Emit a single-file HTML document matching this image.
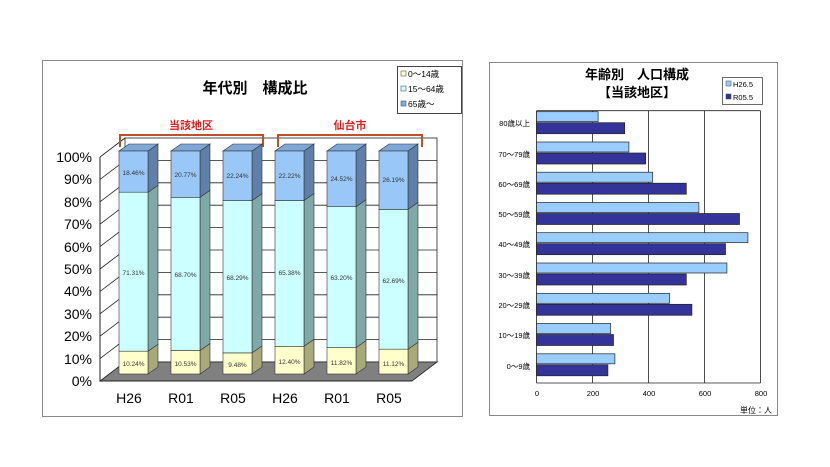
<!DOCTYPE html>
<html><head><meta charset="utf-8"><style>
html,body{margin:0;padding:0;background:#fff;}
svg{display:block;font-family:"Liberation Sans","Noto Sans CJK JP",sans-serif;}
</style></head><body>
<svg width="830" height="467" viewBox="0 0 830 467" xmlns="http://www.w3.org/2000/svg">
<rect x="0" y="0" width="830" height="467" fill="#fff"/>
<!-- LEFT PANEL -->
<rect x="42.5" y="60.5" width="420" height="356" fill="#fff" stroke="#888" stroke-width="1"/>
<text x="255" y="93" font-size="15" font-weight="bold" text-anchor="middle" fill="#000">年代別　構成比</text>
<!-- legend -->
<rect x="397.5" y="66.5" width="64" height="47" fill="#fff" stroke="#444"/>
<rect x="401" y="71" width="5" height="5" fill="#ffffcc" stroke="#555" stroke-width="0.6"/>
<text x="408" y="77" font-size="8.5">0～14歳</text>
<rect x="401" y="86" width="5" height="5" fill="#ccffff" stroke="#555" stroke-width="0.6"/>
<text x="408" y="92" font-size="8.5">15～64歳</text>
<rect x="401" y="101" width="5" height="5" fill="#7faee6" stroke="#555" stroke-width="0.6"/>
<text x="408" y="107" font-size="8.5">65歳～</text>
<!-- back wall and floor -->
<rect x="125" y="138" width="312" height="224" fill="#fff" stroke="#222" stroke-width="0.8"/>
<g stroke="#222" stroke-width="0.8">
<line x1="125" y1="160.4" x2="437" y2="160.4"/><line x1="125" y1="182.8" x2="437" y2="182.8"/>
<line x1="125" y1="205.2" x2="437" y2="205.2"/><line x1="125" y1="227.6" x2="437" y2="227.6"/>
<line x1="125" y1="250" x2="437" y2="250"/><line x1="125" y1="272.4" x2="437" y2="272.4"/>
<line x1="125" y1="294.8" x2="437" y2="294.8"/><line x1="125" y1="317.2" x2="437" y2="317.2"/>
<line x1="125" y1="339.6" x2="437" y2="339.6"/>
<line x1="100" y1="157" x2="125" y2="138"/><line x1="100" y1="179.4" x2="125" y2="160.4"/>
<line x1="100" y1="201.8" x2="125" y2="182.8"/><line x1="100" y1="224.2" x2="125" y2="205.2"/>
<line x1="100" y1="246.6" x2="125" y2="227.6"/><line x1="100" y1="269" x2="125" y2="250"/>
<line x1="100" y1="291.4" x2="125" y2="272.4"/><line x1="100" y1="313.8" x2="125" y2="294.8"/>
<line x1="100" y1="336.2" x2="125" y2="317.2"/><line x1="100" y1="358.6" x2="125" y2="339.6"/>
</g>
<polygon points="100,381 125,362 437,362 412,381" fill="#808080" stroke="#222" stroke-width="0.8"/>
<line x1="100" y1="157" x2="100" y2="381" stroke="#222"/>
<line x1="100" y1="381" x2="412" y2="381" stroke="#222"/>
<g font-size="14" text-anchor="end" fill="#000">
<text x="92" y="162">100%</text><text x="92" y="184">90%</text><text x="92" y="207">80%</text>
<text x="92" y="229">70%</text><text x="92" y="252">60%</text><text x="92" y="274">50%</text>
<text x="92" y="296">40%</text><text x="92" y="319">30%</text><text x="92" y="341">20%</text>
<text x="92" y="364">10%</text><text x="92" y="386">0%</text>
</g>
<g font-size="14" text-anchor="middle" fill="#000">
<text x="129" y="403">H26</text><text x="181" y="403">R01</text><text x="233" y="403">R05</text>
<text x="285" y="403">H26</text><text x="337" y="403">R01</text><text x="389" y="403">R05</text>
</g>
<!-- brackets -->
<g fill="none" stroke="#c0502a" stroke-width="2">
<polyline points="120,147 120,135 263,135 263,147"/>
<polyline points="278,147 278,135 422,135 422,147"/>
</g>
<text x="191" y="129" font-size="11" font-weight="bold" fill="#e02020" text-anchor="middle">当該地区</text>
<text x="350" y="129" font-size="11" font-weight="bold" fill="#e02020" text-anchor="middle">仙台市</text>
<!-- bars -->
<g stroke="#333" stroke-width="0.6">
<!-- bar1 x=119 -->
<polygon points="148,374 158,367 158,344.2 148,351.2" fill="#a8a878"/>
<polygon points="148,351.2 158,344.2 158,185.2 148,192.2" fill="#7fa8a8"/>
<polygon points="148,192.2 158,185.2 158,144 148,151" fill="#5f80a8"/>
<polygon points="119,151 129,144 158,144 148,151" fill="#7fa8d8"/>
<rect x="119" y="351.2" width="29" height="22.8" fill="#ffffcc"/>
<rect x="119" y="192.2" width="29" height="159" fill="#ccffff"/>
<rect x="119" y="151" width="29" height="41.2" fill="#99c8f8"/>
<!-- bar2 x=171 -->
<polygon points="200,374 210,367 210,343.5 200,350.5" fill="#a8a878"/>
<polygon points="200,350.5 210,343.5 210,190.3 200,197.3" fill="#7fa8a8"/>
<polygon points="200,197.3 210,190.3 210,144 200,151" fill="#5f80a8"/>
<polygon points="171,151 181,144 210,144 200,151" fill="#7fa8d8"/>
<rect x="171" y="350.5" width="29" height="23.5" fill="#ffffcc"/>
<rect x="171" y="197.3" width="29" height="153.2" fill="#ccffff"/>
<rect x="171" y="151" width="29" height="46.3" fill="#99c8f8"/>
<!-- bar3 x=223 -->
<polygon points="252,374 262,367 262,345.9 252,352.9" fill="#a8a878"/>
<polygon points="252,352.9 262,345.9 262,193.6 252,200.6" fill="#7fa8a8"/>
<polygon points="252,200.6 262,193.6 262,144 252,151" fill="#5f80a8"/>
<polygon points="223,151 233,144 262,144 252,151" fill="#7fa8d8"/>
<rect x="223" y="352.9" width="29" height="21.1" fill="#ffffcc"/>
<rect x="223" y="200.6" width="29" height="152.3" fill="#ccffff"/>
<rect x="223" y="151" width="29" height="49.6" fill="#99c8f8"/>
<!-- bar4 x=275 -->
<polygon points="304,374 314,367 314,339.3 304,346.3" fill="#a8a878"/>
<polygon points="304,346.3 314,339.3 314,193.5 304,200.5" fill="#7fa8a8"/>
<polygon points="304,200.5 314,193.5 314,144 304,151" fill="#5f80a8"/>
<polygon points="275,151 285,144 314,144 304,151" fill="#7fa8d8"/>
<rect x="275" y="346.3" width="29" height="27.7" fill="#ffffcc"/>
<rect x="275" y="200.5" width="29" height="145.8" fill="#ccffff"/>
<rect x="275" y="151" width="29" height="49.5" fill="#99c8f8"/>
<!-- bar5 x=327 -->
<polygon points="356,374 366,367 366,340.6 356,347.6" fill="#a8a878"/>
<polygon points="356,347.6 366,340.6 366,199.7 356,206.7" fill="#7fa8a8"/>
<polygon points="356,206.7 366,199.7 366,144 356,151" fill="#5f80a8"/>
<polygon points="327,151 337,144 366,144 356,151" fill="#7fa8d8"/>
<rect x="327" y="347.6" width="29" height="26.4" fill="#ffffcc"/>
<rect x="327" y="206.7" width="29" height="140.9" fill="#ccffff"/>
<rect x="327" y="151" width="29" height="55.7" fill="#99c8f8"/>
<!-- bar6 x=379 -->
<polygon points="408,374 418,367 418,342.2 408,349.2" fill="#a8a878"/>
<polygon points="408,349.2 418,342.2 418,202.4 408,209.4" fill="#7fa8a8"/>
<polygon points="408,209.4 418,202.4 418,144 408,151" fill="#5f80a8"/>
<polygon points="379,151 389,144 418,144 408,151" fill="#7fa8d8"/>
<rect x="379" y="349.2" width="29" height="24.8" fill="#ffffcc"/>
<rect x="379" y="209.4" width="29" height="139.8" fill="#ccffff"/>
<rect x="379" y="151" width="29" height="58.4" fill="#99c8f8"/>
</g>
<g font-size="6.5" text-anchor="middle" fill="#333">
<text x="133.5" y="175">18.46%</text><text x="133.5" y="275">71.31%</text><text x="133.5" y="366">10.24%</text>
<text x="185.5" y="177">20.77%</text><text x="185.5" y="277">68.70%</text><text x="185.5" y="366">10.53%</text>
<text x="237.5" y="178">22.24%</text><text x="237.5" y="280">68.29%</text><text x="237.5" y="367">9.48%</text>
<text x="289.5" y="178">22.22%</text><text x="289.5" y="275">65.38%</text><text x="289.5" y="364">12.40%</text>
<text x="341.5" y="181">24.52%</text><text x="341.5" y="280">63.20%</text><text x="341.5" y="365">11.82%</text>
<text x="393.5" y="182">26.19%</text><text x="393.5" y="283">62.69%</text><text x="393.5" y="366">11.12%</text>
</g>

<!-- RIGHT PANEL -->
<rect x="489.5" y="62.5" width="288" height="353" fill="#fff" stroke="#888"/>
<text x="637" y="79" font-size="13" font-weight="bold" text-anchor="middle">年齢別　人口構成</text>
<text x="637" y="97" font-size="13" font-weight="bold" text-anchor="middle">【当該地区】</text>
<rect x="722.5" y="77.5" width="40" height="27" fill="#fff" stroke="#444" stroke-width="0.8"/>
<rect x="726" y="81" width="5" height="5" fill="#99ccff" stroke="#444" stroke-width="0.5"/>
<text x="733" y="87" font-size="7.5">H26.5</text>
<rect x="726" y="94" width="5" height="5" fill="#333399" stroke="#444" stroke-width="0.5"/>
<text x="733" y="100" font-size="7.5">R05.5</text>
<g stroke="#222" stroke-width="0.8">
<line x1="592.5" y1="110.7" x2="592.5" y2="383"/>
<line x1="648.5" y1="110.7" x2="648.5" y2="383"/>
<line x1="704.5" y1="110.7" x2="704.5" y2="383"/>
<line x1="760.5" y1="110.7" x2="760.5" y2="383"/>
<line x1="536.5" y1="110.7" x2="760.5" y2="110.7"/>
<line x1="536.5" y1="110.7" x2="536.5" y2="383"/>
<line x1="536.5" y1="383" x2="760.5" y2="383"/>
</g>
<g stroke="#222" stroke-width="0.7">
<rect x="536.5" y="111.7" width="61.6" height="10" fill="#99ccff"/><rect x="536.5" y="122.7" width="88.2" height="11" fill="#333399"/>
<rect x="536.5" y="142" width="92.4" height="10" fill="#99ccff"/><rect x="536.5" y="153" width="109.2" height="11" fill="#333399"/>
<rect x="536.5" y="172.2" width="116.2" height="10" fill="#99ccff"/><rect x="536.5" y="183.2" width="149.8" height="11" fill="#333399"/>
<rect x="536.5" y="202.5" width="162.4" height="10" fill="#99ccff"/><rect x="536.5" y="213.5" width="203" height="11" fill="#333399"/>
<rect x="536.5" y="232.7" width="211.4" height="10" fill="#99ccff"/><rect x="536.5" y="243.7" width="189" height="11" fill="#333399"/>
<rect x="536.5" y="263" width="190.4" height="10" fill="#99ccff"/><rect x="536.5" y="274" width="149.8" height="11" fill="#333399"/>
<rect x="536.5" y="293.3" width="133" height="10" fill="#99ccff"/><rect x="536.5" y="304.3" width="155.4" height="11" fill="#333399"/>
<rect x="536.5" y="323.5" width="74.2" height="10" fill="#99ccff"/><rect x="536.5" y="334.5" width="77" height="11" fill="#333399"/>
<rect x="536.5" y="353.8" width="78.4" height="10" fill="#99ccff"/><rect x="536.5" y="364.8" width="71.4" height="11" fill="#333399"/>
</g>
<g font-size="7.5" text-anchor="end" fill="#000">
<text x="530" y="126">80歳以上</text><text x="530" y="157">70～79歳</text><text x="530" y="187">60～69歳</text>
<text x="530" y="217">50～59歳</text><text x="530" y="247">40～49歳</text><text x="530" y="278">30～39歳</text>
<text x="530" y="308">20～29歳</text><text x="530" y="338">10～19歳</text><text x="530" y="369">0～9歳</text>
</g>
<g font-size="7.5" text-anchor="middle" fill="#000">
<text x="537" y="396">0</text><text x="593" y="396">200</text><text x="649" y="396">400</text>
<text x="705" y="396">600</text><text x="761" y="396">800</text>
</g>
<text x="772" y="413" font-size="8" text-anchor="end">単位：人</text>
</svg>
</body></html>
